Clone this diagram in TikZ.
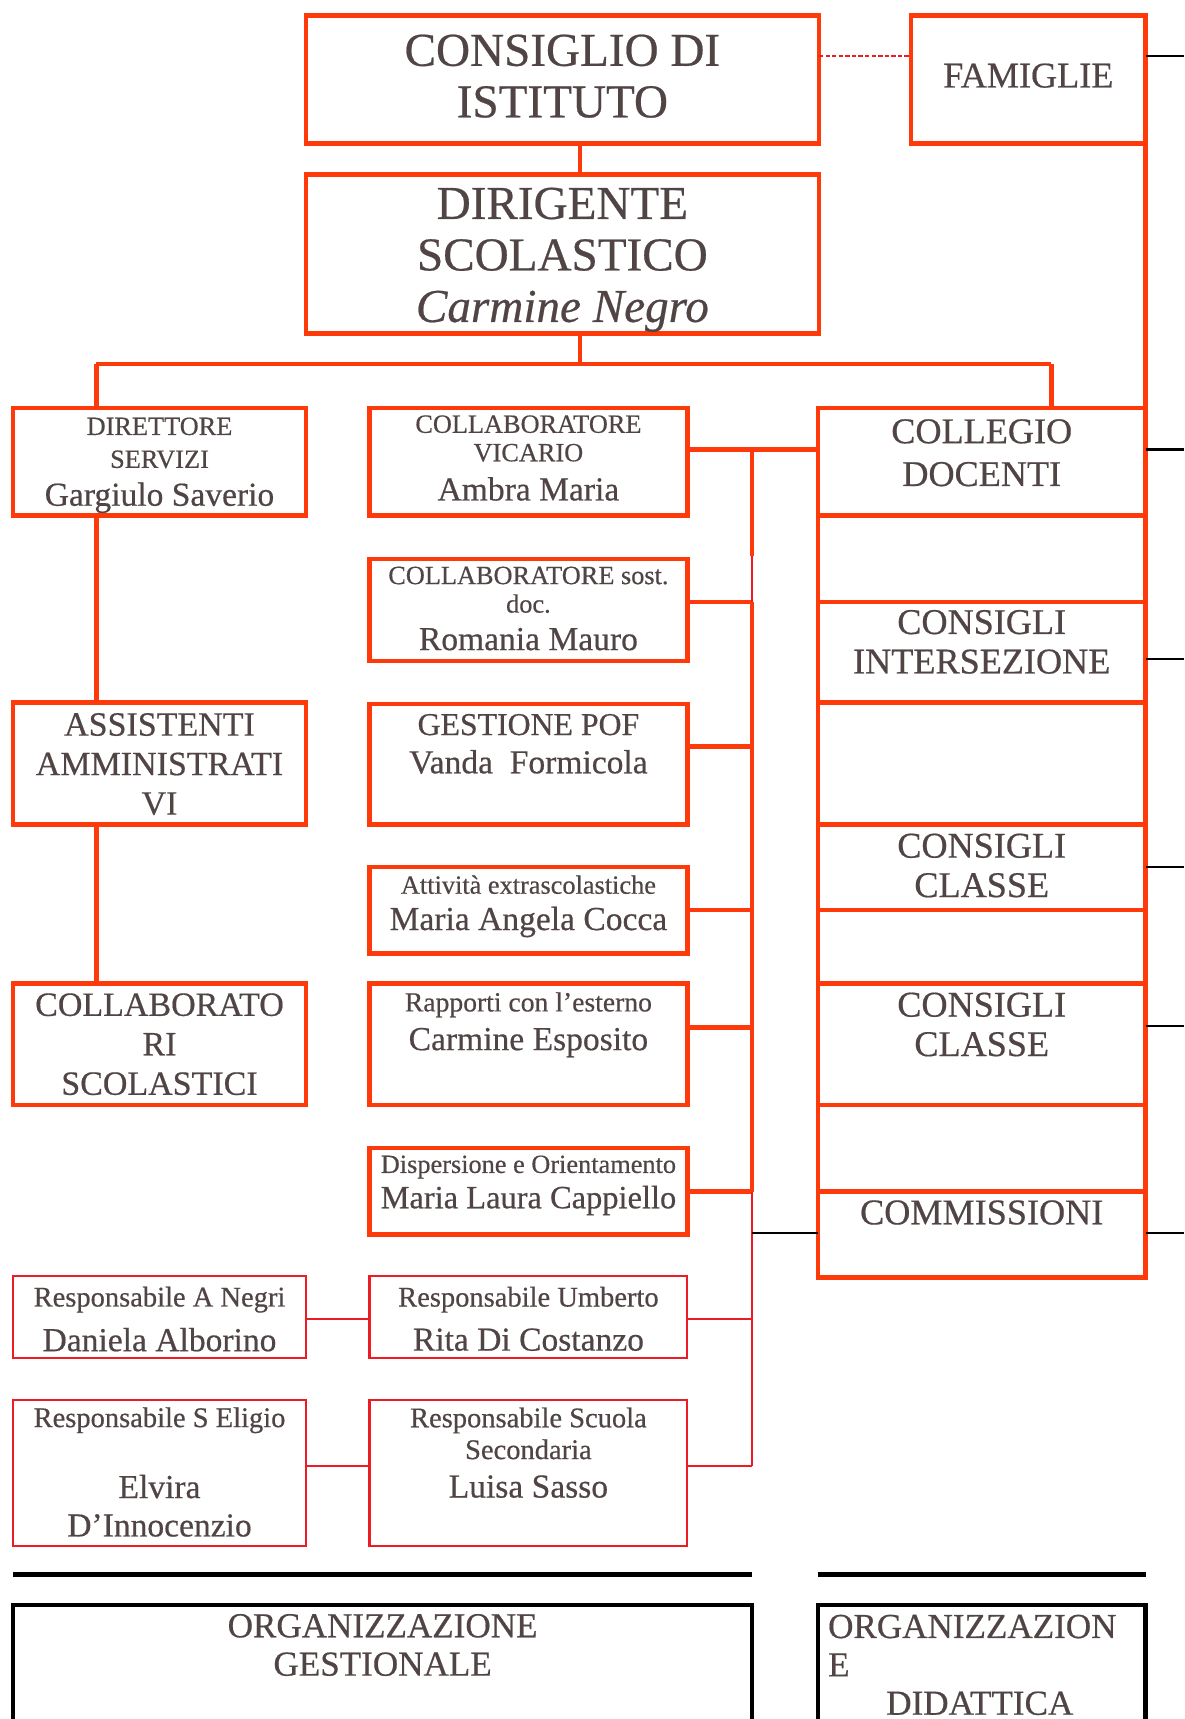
\documentclass[tikz,border=0pt]{standalone}
\usepackage{fontspec}
\setmainfont{Liberation Serif}[FakeBold=0.5]
\definecolor{orgline}{RGB}{255,58,10}
\definecolor{redline}{RGB}{237,28,36}
\definecolor{ink}{RGB}{80,68,68}
\begin{document}
\begin{tikzpicture}[x=0.5pt,y=-0.5pt]
    \def\dx{0.5pt}

    \clip (0,0) rectangle (1080,1568);

    \tikzstyle{frame}=[draw=orgline,line width=2.1pt,inner sep=0pt,outer sep=0pt]
    \tikzstyle{thinframe}=[draw=redline,line width=1pt,inner sep=0pt,outer sep=0pt]
    \tikzstyle{blackframe}=[draw=black,line width=2.1pt,inner sep=0pt,outer sep=0pt]
    \tikzstyle{txt}=[text=ink,align=center,inner sep=0pt]
    \tikzstyle{big}=[txt,font=\fontsize{21.5}{23.5}\selectfont]
    \tikzstyle{mid}=[txt,font=\fontsize{16.5}{18}\selectfont]
    \tikzstyle{hdr}=[txt,font=\fontsize{15.5}{18}\selectfont]
    \tikzstyle{role}=[txt,font=\fontsize{12}{13}\selectfont]
    \tikzstyle{resp}=[txt,font=\fontsize{13}{14.5}\selectfont]
    \tikzstyle{person}=[txt,font=\fontsize{15.3}{17.5}\selectfont]

    % top boxes
    \node[frame,minimum width=468*\dx,minimum height=117*\dx] (consiglio) at (513,72.5) {};
    \node[frame,minimum width=214*\dx,minimum height=117*\dx] (famiglie) at (938,72.5) {};
    \node[frame,minimum width=468*\dx,minimum height=145*\dx] (dirigente) at (513,231.5) {};
    \node[big] (consiglio-t) at (513,69.5) {CONSIGLIO DI\\ISTITUTO};
    \node[mid] (famiglie-t) at (938,69) {FAMIGLIE};
    \node[big] (dirigente-t) at (513,237) {DIRIGENTE\\SCOLASTICO\\\textit{Carmine Negro}};

    % left column
    \node[frame,minimum width=267*\dx,minimum height=98*\dx] (direttore) at (145.5,421) {};
    \node[frame,minimum width=267*\dx,minimum height=111*\dx] (assistenti) at (145.5,696.5) {};
    \node[frame,minimum width=267*\dx,minimum height=111*\dx] (collscol) at (145.5,952.5) {};
    \node[thinframe,minimum width=267*\dx,minimum height=75*\dx] (negri) at (145.5,1201.5) {};
    \node[thinframe,minimum width=267*\dx,minimum height=133*\dx] (eligio) at (145.5,1343.5) {};
    \node[role] (direttore-r) at (145.5,404) {DIRETTORE\\[2pt]SERVIZI};
    \node[person] (direttore-n) at (145.5,454) {Gargiulo Saverio};
    \node[hdr] (assistenti-t) at (145.5,697) {ASSISTENTI\\AMMINISTRATI\\VI};
    \node[hdr] (collscol-t) at (145.5,952.5) {COLLABORATO\\RI\\SCOLASTICI};
    \node[resp] (negri-r) at (145.5,1185.5) {Responsabile A Negri};
    \node[person] (negri-n) at (145.5,1222) {Daniela Alborino};
    \node[resp] (eligio-r) at (145.5,1295.5) {Responsabile S Eligio};
    \node[person] (eligio-n) at (145.5,1373.5) {Elvira\\D’Innocenzio};

    % middle column
    \node[frame,minimum width=290*\dx,minimum height=98*\dx] (vicario) at (482,421) {};
    \node[frame,minimum width=290*\dx,minimum height=93*\dx] (sost) at (482,556.5) {};
    \node[frame,minimum width=290*\dx,minimum height=110*\dx] (pof) at (482,697) {};
    \node[frame,minimum width=290*\dx,minimum height=79*\dx] (attivita) at (482,830.5) {};
    \node[frame,minimum width=290*\dx,minimum height=111*\dx] (rapporti) at (482,952.5) {};
    \node[frame,minimum width=290*\dx,minimum height=79*\dx] (dispersione) at (482,1086.5) {};
    \node[thinframe,minimum width=290*\dx,minimum height=75*\dx] (umberto) at (482,1201.5) {};
    \node[thinframe,minimum width=290*\dx,minimum height=133*\dx] (secondaria) at (482,1343.5) {};
    \node[role] (vicario-r) at (482,400) {COLLABORATORE\\VICARIO};
    \node[person] (vicario-n) at (482,446) {Ambra Maria};
    \node[role] (sost-r) at (482,538) {COLLABORATORE sost.\\doc.};
    \node[person] (sost-n) at (482,583) {Romania Mauro};
    \node[txt,font=\fontsize{14.5}{16}\selectfont] (pof-r) at (482,661) {GESTIONE POF};
    \node[person] (pof-n) at (482,695) {Vanda\ \ Formicola};
    \node[role] (attivita-r) at (482,807) {Attività extrascolastiche};
    \node[person] (attivita-n) at (482,841) {Maria Angela Cocca};
    \node[role,font=\fontsize{12.6}{14}\selectfont] (rapporti-r) at (482,916.5) {Rapporti con l’esterno};
    \node[person] (rapporti-n) at (482,951) {Carmine Esposito};
    \node[role] (dispersione-r) at (482,1064.5) {Dispersione e Orientamento};
    \node[person,font=\fontsize{14.8}{17}\selectfont] (dispersione-n) at (482,1095) {Maria Laura Cappiello};
    \node[resp] (umberto-r) at (482,1185.5) {Responsabile Umberto};
    \node[person] (umberto-n) at (482,1222) {Rita Di Costanzo};
    \node[resp] (secondaria-r) at (482,1307.5) {Responsabile Scuola\\Secondaria};
    \node[person] (secondaria-n) at (482,1356) {Luisa Sasso};

    % right stack
    \node[frame,minimum width=299*\dx,minimum height=793*\dx] (stack) at (895.5,768.5) {};
    \node[frame,minimum width=299*\dx,minimum height=98*\dx] (collegio) at (895.5,421) {};
    \node[frame,minimum width=299*\dx,minimum height=92*\dx] (inters) at (895.5,595) {};
    \node[frame,minimum width=299*\dx,minimum height=78*\dx] (classe1) at (895.5,791) {};
    \node[frame,minimum width=299*\dx,minimum height=111*\dx] (classe2) at (895.5,952.5) {};
    \node[frame,minimum width=299*\dx,minimum height=78*\dx] (commiss) at (895.5,1126) {};
    \node[mid] (collegio-t) at (895.5,413) {COLLEGIO\\[1.5pt]DOCENTI};
    \node[mid] (inters-t) at (895.5,585.5) {CONSIGLI\\INTERSEZIONE};
    \node[mid] (classe1-t) at (895.5,789.5) {CONSIGLI\\CLASSE};
    \node[mid] (classe2-t) at (895.5,934.5) {CONSIGLI\\CLASSE};
    \node[mid] (commiss-t) at (895.5,1106) {COMMISSIONI};

    % bottom boxes
    \node[blackframe,minimum width=674*\dx,minimum height=160*\dx] (gestionale) at (349,1544) {};
    \node[blackframe,minimum width=299*\dx,minimum height=160*\dx] (didattica) at (895.5,1544) {};
    \node[txt,font=\fontsize{16}{17.5}\selectfont] (gestionale-t) at (349,1500.5) {ORGANIZZAZIONE\\GESTIONALE};
    \node[txt,align=left,anchor=north west,font=\fontsize{16}{17.5}\selectfont] (didattica-t) at (755,1472.5)
        {ORGANIZZAZION\\E\\\hspace*{26.5pt}DIDATTICA};

    \tikzstyle{link}=[draw=orgline,line width=2.1pt]
    \tikzstyle{thinlink}=[draw=redline,line width=1pt]
    \tikzstyle{stub}=[draw=black,line width=1pt]

    \coordinate (hub) at (529,332);
    \coordinate (lft) at (88,332);
    \coordinate (rgt) at (959,332);
    \coordinate (bus) at (686,410);
    \coordinate (gap) at (686,507);

    \draw[draw=redline,line width=0.8pt,dash pattern=on 2pt off 1pt] (consiglio.east |- 0,51) -- (famiglie.west |- 0,51);
    \draw[link] (consiglio.south -| hub) -- (dirigente.north -| hub);
    \draw[link] (dirigente.south -| hub) -- (hub);
    \draw[link] (lft) -- (rgt);
    \draw[link] (lft) -- (direttore.north -| lft);
    \draw[link] (rgt) -- (collegio.north -| rgt);
    \draw[link] (direttore.south -| lft) -- (assistenti.north -| lft);
    \draw[link] (assistenti.south -| lft) -- (collscol.north -| lft);
    \draw[link] (famiglie.south east) -- (stack.north east);

    \draw[link] (vicario.east |- bus) -- (collegio.west |- bus);
    \draw[link] (bus) -- (gap);
    \foreach \n/\y in {sost/549, pof/681, attivita/830, rapporti/937, dispersione/1087}
    {
        \coordinate (bus-\n) at (686,\y);
        \draw[link] (\n.east |- bus-\n) -- (bus-\n);
    }
    \draw[thinlink] (gap) -- (bus-sost);
    \draw[link] (bus-sost) -- (bus-dispersione);
    \foreach \n/\m/\y in {umberto/negri/1203, secondaria/eligio/1337}
    {
        \coordinate (bus-\n) at (686,\y);
        \draw[thinlink] (\n.east |- bus-\n) -- (bus-\n);
        \draw[thinlink] (\m.east |- bus-\n) -- (\n.west |- bus-\n);
    }
    \draw[thinlink] (bus-dispersione) -- (bus-secondaria);
    \coordinate (bus-comm) at (686,1125);
    \draw[stub] (bus-comm) -- (commiss.west |- bus-comm);

    \foreach \n/\y in {famiglie/51, collegio/410, inters/601, classe1/791, classe2/936, commiss/1125}
        \draw[stub] (\n.east |- 0,\y) -- (1080,\y);

    \draw[draw=black,line width=2.1pt] (gestionale.north west |- 0,1436) -- (gestionale.north east |- 0,1436);
    \draw[draw=black,line width=2.1pt] (didattica.north west |- 0,1436) -- (didattica.north east |- 0,1436);
\end{tikzpicture}
\end{document}
